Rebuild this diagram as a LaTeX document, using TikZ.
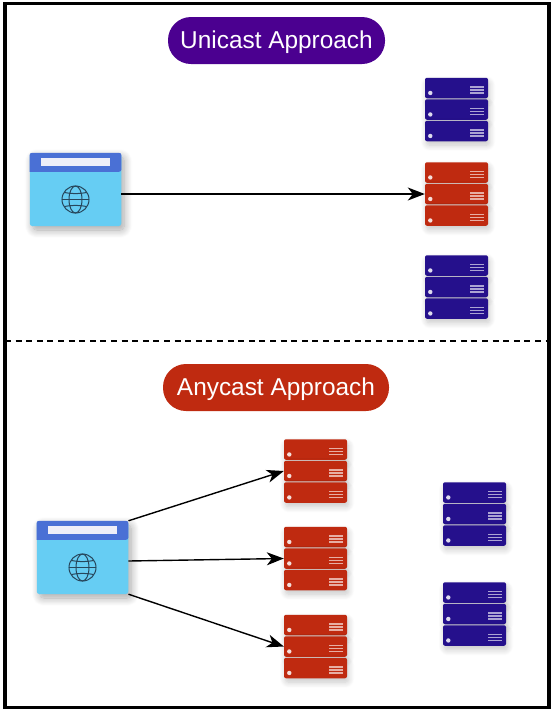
\documentclass[tikz,border=0pt]{standalone}
\usepackage{fontspec}
\setmainfont{Liberation Sans}
\usetikzlibrary{arrows.meta,shadows.blur}
\definecolor{unipurple}{HTML}{4B0090}
\definecolor{anyred}{HTML}{BF2A10}
\definecolor{srvblue}{HTML}{25108C}
\definecolor{skyblue}{HTML}{66CDF3}
\definecolor{headblue}{HTML}{4A70D5}
\definecolor{barwhite}{HTML}{EEEEF8}
\definecolor{globeink}{HTML}{27475C}
\tikzset{
  title/.style={rounded corners=23pt, text=white, inner sep=0pt, minimum height=47pt,
    text height=18pt, text depth=2pt, font=\fontsize{24.4}{28}\selectfont},
  server/.style={rounded corners=2pt, inner sep=0pt, minimum width=63pt, minimum height=20.5pt,
    blur shadow={shadow xshift=1.5pt, shadow yshift=-4pt, shadow blur radius=6pt, shadow blur extra rounding=3pt, shadow blur steps=10, shadow opacity=22}},
  browser/.style={fill=skyblue, rounded corners=2.5pt, inner sep=0pt, minimum width=91.5pt, minimum height=73pt,
    blur shadow={shadow xshift=3pt, shadow yshift=-4pt, shadow blur radius=8pt, shadow blur extra rounding=4pt, shadow blur steps=10, shadow opacity=35}},
  link/.style={-{Stealth[length=17pt,width=13pt,inset=5pt]}, line width=1.4pt},
  globeline/.style={globeink, line width=1pt},
}
% three racks, (#2,#3) is the centre of the top one
\newcommand{\serverstack}[4]{
  \node (#1a) [server, fill=#4] at (#2,#3) {};
  \node (#1b) [server, fill=#4, below of=#1a, node distance=21.5pt] {};
  \node (#1c) [server, fill=#4, below of=#1b, node distance=21.5pt] {};
  \foreach \rack in {#1a,#1b,#1c} {
    \fill[white!85!#4] ([shift={(5.5pt,5.5pt)}]\rack.south west) circle (2.2pt);
    \foreach \s in {5.5,8.5,11.5}
      \draw[white!62!#4, line width=1.5pt] ([shift={(-18pt,\s pt)}]\rack.south east) -- ++(14pt,0pt);
  }
}
% window with title bar and globe
\newcommand{\webclient}[3]{
  \node (#1) [browser] at (#2,#3) {};
  \fill[headblue, rounded corners=2.5pt] (#1.north west) -- (#1.north east) -- ([yshift=-19pt]#1.north east)
    [sharp corners] -- ([yshift=-19pt]#1.north west) [rounded corners=2.5pt] -- cycle;
  \fill[barwhite] ([shift={(11.5pt,-5.5pt)}]#1.north west) rectangle ([shift={(-11.5pt,-13pt)}]#1.north east);
  \coordinate (#1g) at ([yshift=-10pt]#1.center);
  \draw[globeline] (#1g) circle (13.5pt);
  \draw[globeline] (#1g) ellipse (6.5pt and 13.5pt);
  \draw[globeline] ([xshift=-13.5pt]#1g) -- ([xshift=13.5pt]#1g);
  \draw[globeline] ([shift={(-11pt,-7pt)}]#1g) to[bend left=10] ([shift={(11pt,-7pt)}]#1g);
  \draw[globeline] ([shift={(-11pt,7pt)}]#1g) to[bend right=10] ([shift={(11pt,7pt)}]#1g);
}
\begin{document}
\begin{tikzpicture}[x=1pt, y=-1pt]
  \useasboundingbox (0,0) rectangle (552,713);
  \draw[line width=3.4pt] (5,3.5) rectangle (549,707.5);
  \coordinate (dashL) at (5,341);
  \coordinate (dashR) at (549,341);
  \draw[dash pattern=on 6pt off 4.6pt, line width=1.2pt] (dashL) -- (dashR);

  \node (uni) [title, fill=unipurple, minimum width=217pt] at (276.5,40.5) {Unicast Approach};
  \node (any) [title, fill=anyred, minimum width=226pt] at (276,387.5) {Anycast Approach};

  \serverstack{p}{456.5}{88}{srvblue}
  \serverstack{q}{456.5}{172.5}{anyred}
  \serverstack{r}{456.5}{265.5}{srvblue}
  \webclient{clientU}{75.5}{189.5}
  \draw[link] (clientU.east |- qb.west) -- (qb.west);

  \serverstack{s}{315.5}{449.5}{anyred}
  \serverstack{t}{315.5}{537}{anyred}
  \serverstack{u}{315.5}{625}{anyred}
  \serverstack{v}{474.5}{492.5}{srvblue}
  \serverstack{w}{474.5}{592.5}{srvblue}
  \webclient{clientA}{82.5}{557.5}
  \path[link]  (clientA.north east) edge (sb.west)
               ([yshift=-3.5pt]clientA.east) edge (tb.west)
               (clientA.south east) edge (ub.west)
               ;
\end{tikzpicture}
\end{document}
